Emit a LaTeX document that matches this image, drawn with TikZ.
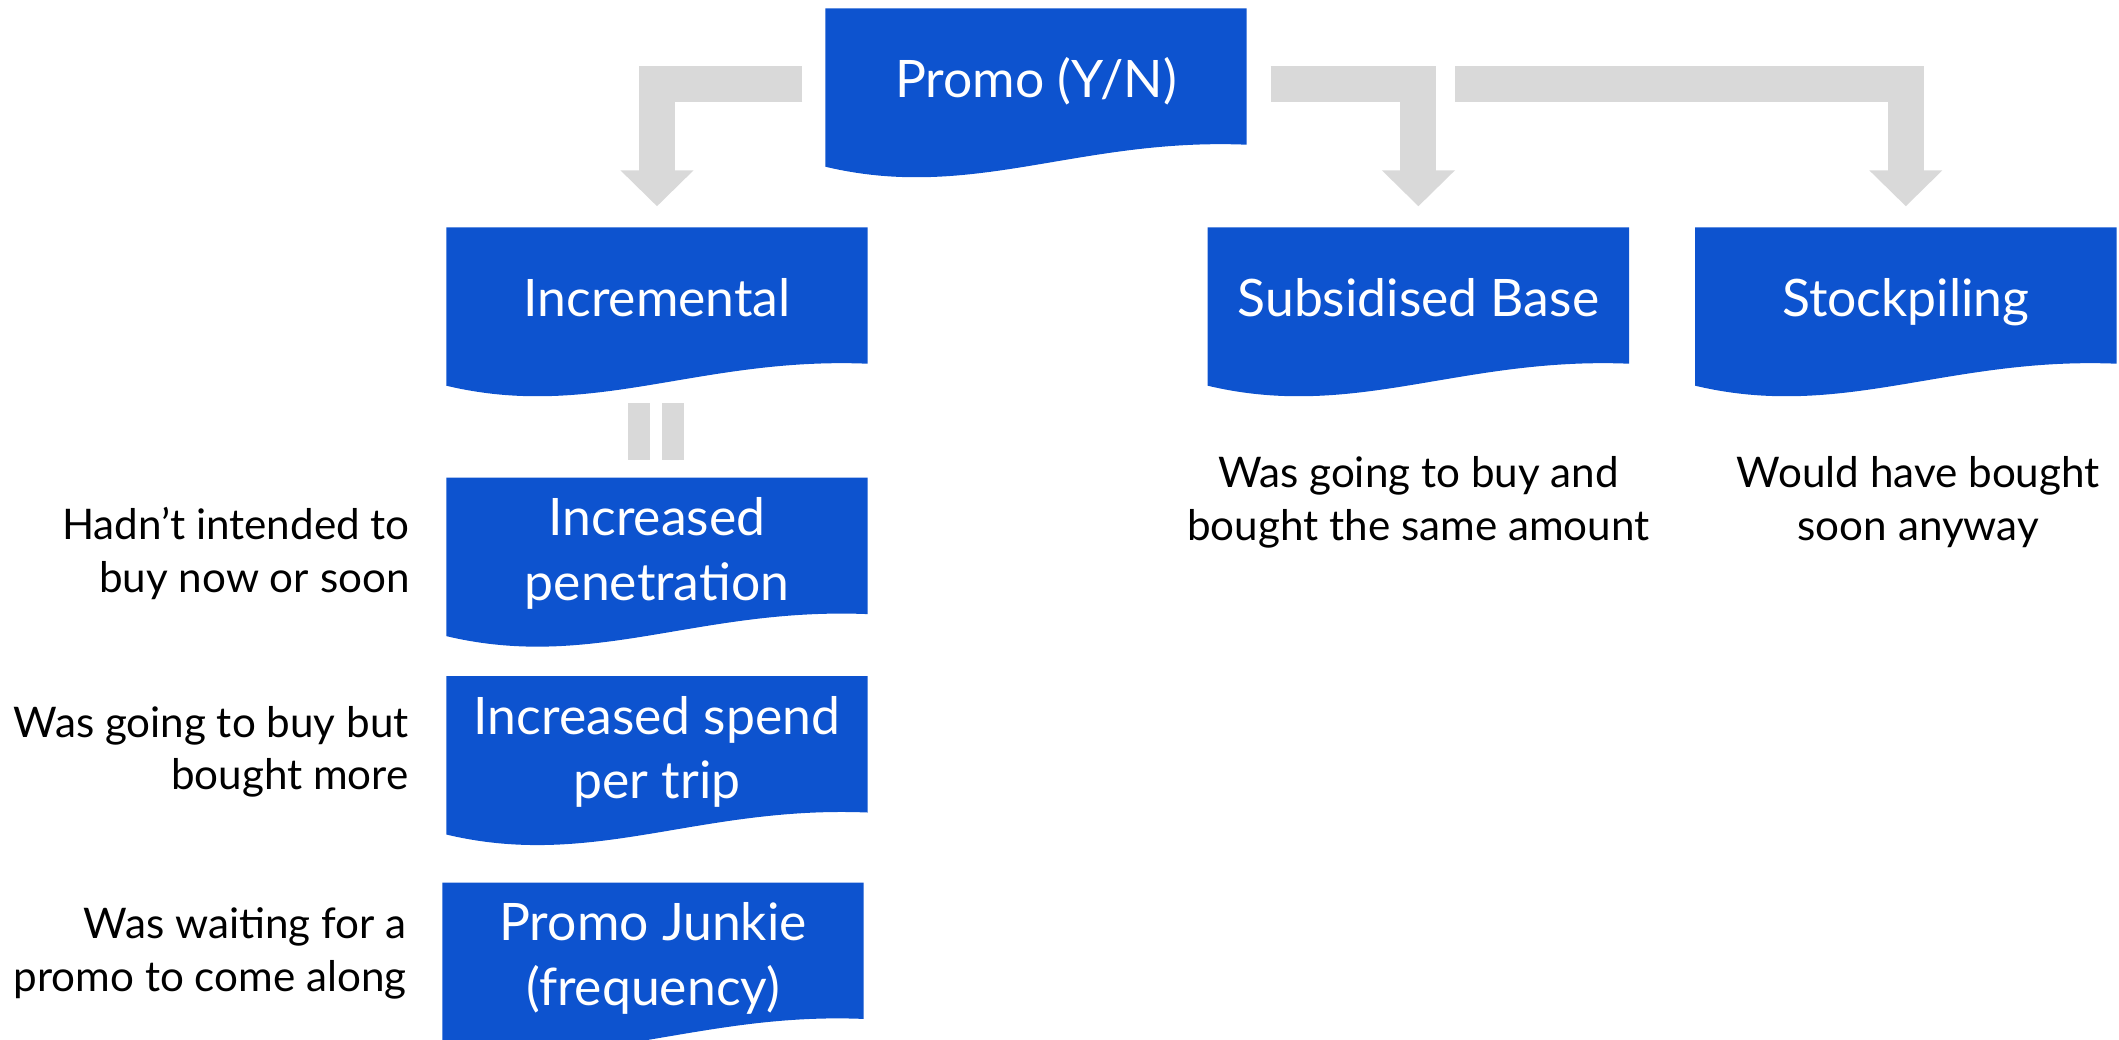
\documentclass[tikz,border=0pt]{standalone}
\usepackage{fontspec}
\setmainfont{Lato}
\usetikzlibrary{positioning, arrows.meta, backgrounds}

\definecolor{boxblue}{RGB}{13,83,207}
\definecolor{arrowgrey}{RGB}{217,217,217}

\begin{document}
\begin{tikzpicture}[
  box/.style={minimum width=42mm, minimum height=15mm, inner sep=0pt,
    text=white, align=center, font=\fontsize{14.7}{18.4}\selectfont},
  oneline/.style={text height=3.7mm, text depth=1mm},
  note/.style={inner sep=0pt, font=\fontsize{12}{15}\selectfont},
  grarrow/.style={draw=arrowgrey, line width=3.6mm,
    -{Triangle[length=3.6mm,width=7.1mm]}}]
  \useasboundingbox (0,0) rectangle (211.9mm,-103.9mm);

  % Kaesten
  \node[box, oneline] (promo) at (103.6mm,-8.4mm) {Promo (Y/N)};
  \node[box, oneline] (incr) at (65.7mm,-30.3mm) {Incremental};
  \node[box, oneline, right=34mm of incr] (subs) {Subsidised Base};
  \node[box, oneline, right=6.6mm of subs] (stock) {Stockpiling};
  \node[box, below=9.9mm of incr] (pen) {Increased\\penetration};
  \node[box, below=4.7mm of pen] (spend) {Increased spend\\per trip};
  \node[box, below=5.5mm of spend, xshift=-0.4mm] (junkie) {Promo Junkie\\(frequency)};

  % Form der Kaesten
  \begin{scope}[on background layer]
    \foreach \n in {promo,incr,subs,stock,pen,spend,junkie}
      \fill[boxblue] (\n.north west) -- (\n.north east) -- ([yshift=1.5mm]\n.south east)
        .. controls ([xshift=25.2mm,yshift=2.2mm]\n.south west)
        and ([xshift=14.7mm,yshift=-4.2mm]\n.south west)
        .. ([yshift=-0.7mm]\n.south west) -- cycle;
  \end{scope}

  % Erklaerungen
  \node[note, align=right, left=3.6mm of pen] (penTxt) {Hadn't intended to\\buy now or soon};
  \node[note, align=right, left=3.7mm of spend] (spendTxt) {Was going to buy but\\bought more};
  \node[note, align=right, left=3.5mm of junkie, yshift=0.5mm] (junkieTxt) {Was waiting for a\\promo to come along};
  \node[note, align=center, below=7.7mm of subs] (subsTxt) {Was going to buy and\\bought the same amount};
  \node[note, align=center, below=7.7mm of stock, xshift=1.25mm] (stockTxt) {Would have bought\\soon anyway};

  % Pfeile
  \path (subs.north |- promo.east) ++(3.7mm,0) coordinate (split);
  \draw[grarrow] ([xshift=-2.3mm]promo.west) -| ([yshift=2.1mm]incr.north);
  \draw[grarrow] ([xshift=2.4mm]promo.east) -| ([yshift=2.1mm]subs.north);
  \draw[grarrow] (split) -| ([yshift=2.1mm]stock.north);

  % Gleichheitszeichen
  \fill[arrowgrey] ([xshift=-2.9mm,yshift=-2.4mm]incr.south) rectangle ++(2.2mm,-5.7mm);
  \fill[arrowgrey] ([xshift=0.5mm,yshift=-2.4mm]incr.south) rectangle ++(2.2mm,-5.7mm);
\end{tikzpicture}
\end{document}
